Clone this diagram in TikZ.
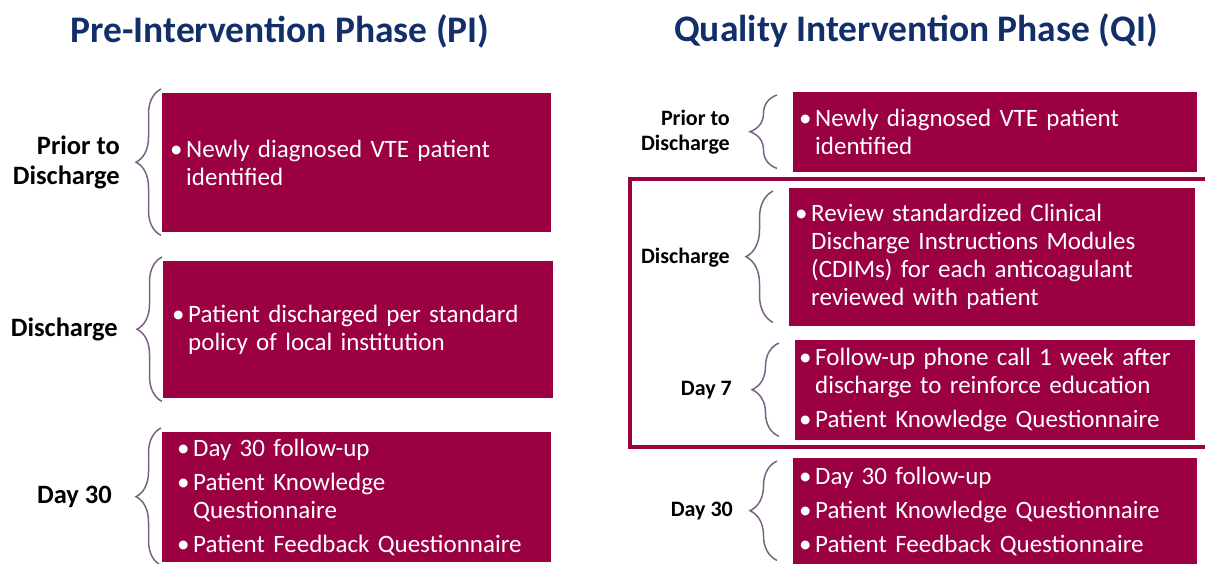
\documentclass[tikz,border=0pt]{standalone}
\usepackage{fontspec}
\setmainfont{Carlito}
\usepackage{tikz}
\usetikzlibrary{decorations.pathreplacing}

\definecolor{boxred}{HTML}{9A0042}
\definecolor{titlenavy}{HTML}{122F69}
\definecolor{bracegray}{HTML}{7D6085}

\newlength{\bw}
\setlength{\bw}{16pt}
% bullet item and its continuation lines
\newcommand{\itm}[1]{\makebox[\bw][l]{\textbullet}#1}
\newcommand{\cnt}[1]{\hspace*{\bw}#1}

\tikzset{
  phasetitle/.style={text=titlenavy, font=\fontsize{37.5}{44}\selectfont\bfseries},
  stagebox/.style={fill=boxred, text=white, anchor=north west, align=left,
    inner ysep=0pt, font=\fontsize{25}{28}\selectfont},
  stagelabel/.style={anchor=east, align=right, inner sep=0pt},
  stagebrace/.style={decorate, decoration={brace, amplitude=#1},
    draw=bracegray, line width=1.5pt},
  stagebrace/.default=27pt,
  frameline/.style={draw=boxred, line width=4.5pt}
}

\begin{document}
\begin{tikzpicture}[x=1pt, y=-1pt]
  \useasboundingbox (0,0) rectangle (1205,564);

  % ---- pre-intervention phase ----
  \node[phasetitle] (titlePI) at (280,31) {Pre-Intervention Phase (PI)};

  \node[stagebox, inner xsep=8pt, text width=373pt, minimum height=139pt]
    (pi1) at (162,93) {\itm{Newly diagnosed VTE patient}\\ \cnt{identified}};
  \node[stagebox, inner xsep=9pt, text width=372pt, minimum height=137pt]
    (pi2) at (163,261) {\itm{Patient discharged per standard}\\ \cnt{policy of local institution}};
  \node[stagebox, inner xsep=15pt, text width=359pt, minimum height=130pt]
    (pi3) at (162,432) {\itm{Day 30 follow-up}\\[6pt]
      \itm{Patient Knowledge}\\ \cnt{Questionnaire}\\[6pt]
      \itm{Patient Feedback Questionnaire}};

  % braces and stage names
  \foreach \b in {pi1,pi2,pi3}
    \draw[stagebrace=25pt] ([xshift=-1pt,yshift=-3pt]\b.south west)
      -- ([xshift=-1pt,yshift=4pt]\b.north west);
  \begin{scope}[every node/.style={stagelabel, font=\fontsize{26.5}{30}\selectfont\bfseries}]
    \node (pl1) at ([xshift=-42pt]pi1.west) {Prior to\\Discharge};
    \node (pl2) at ([xshift=-45pt]pi2.west) {Discharge};
    \node (pl3) at ([xshift=-50pt]pi3.west) {Day 30};
  \end{scope}

  % ---- quality intervention phase ----
  \node[phasetitle] (titleQI) at (916,31) {Quality Intervention Phase (QI)};

  \node[stagebox, inner xsep=6pt, text width=392pt, minimum height=80pt]
    (qi1) at (793,92) {\itm{Newly diagnosed VTE patient}\\ \cnt{identified}};
  \node[stagebox, inner xsep=6pt, text width=394pt, minimum height=138pt]
    (qi2) at (789,188) {\itm{Review standardized Clinical}\\
      \cnt{Discharge Instructions Modules}\\ \cnt{(CDIMs) for each anticoagulant}\\
      \cnt{reviewed with patient}};
  \node[stagebox, inner xsep=4pt, text width=392pt, minimum height=100pt]
    (qi3) at (795,340) {\itm{Follow-up phone call 1 week after}\\
      \cnt{discharge to reinforce education}\\[6pt]
      \itm{Patient Knowledge Questionnaire}};
  \node[stagebox, inner xsep=6pt, text width=392pt, minimum height=106pt]
    (qi4) at (793,458) {\itm{Day 30 follow-up}\\[6pt]
      \itm{Patient Knowledge Questionnaire}\\[6pt]
      \itm{Patient Feedback Questionnaire}};

  % frame round the new discharge and day 7 steps
  \draw[frameline] (1215,179) -- (630,179) -- (630,447) -- (1215,447);

  \foreach \b in {qi1,qi2,qi3,qi4}
    \draw[stagebrace] ([xshift=-16pt,yshift=4pt]\b.south west)
      -- ([xshift=-16pt,yshift=-3pt]\b.north west);
  \begin{scope}[every node/.style={stagelabel, font=\fontsize{22}{25}\selectfont\bfseries}]
    \node (ql1) at ([xshift=-63pt]qi1.west) {Prior to\\Discharge};
    \node (ql2) at ([xshift=-59pt]qi2.west) {Discharge};
    \node (ql3) at ([xshift=-63pt]qi3.west) {Day 7};
    \node (ql4) at ([xshift=-60pt]qi4.west) {Day 30};
  \end{scope}
\end{tikzpicture}
\end{document}
